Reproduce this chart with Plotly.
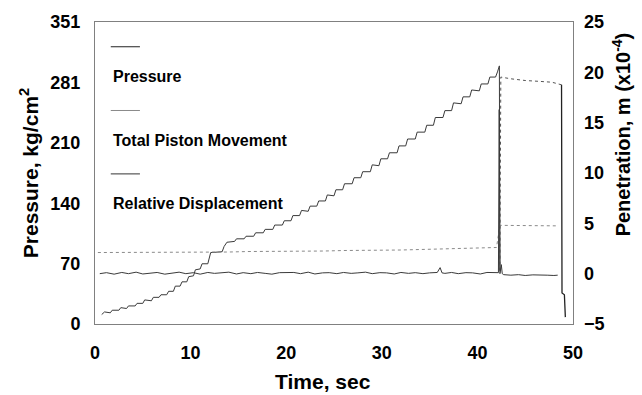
import plotly.graph_objects as go

# ---------------- data ----------------
# Pressure, rising staircase (left axis, kg/cm2)
pressure_rise_t = [0.7, 1.0, 1.6, 1.8, 2.5, 2.7, 3.3, 3.5, 4.2, 4.4, 5.0, 5.2, 5.9, 6.1, 6.7, 6.9,
                   7.5, 7.7, 8.2, 8.4, 8.9, 9.1, 9.6, 9.8, 10.3, 10.5, 11.0, 11.2, 11.8, 12.0, 12.1,
                   13.3, 13.5, 13.8, 14.6, 14.8, 15.6, 15.8, 16.6, 16.8, 17.6, 17.8, 18.6, 18.8,
                   19.6, 19.8, 20.5, 20.7, 21.4, 21.6, 22.3, 22.5, 23.2, 23.4, 24.1, 24.3, 25.0,
                   25.2, 25.9, 26.1, 26.9, 27.1, 27.8, 28.0, 28.8, 29.0, 29.7, 29.9, 30.6, 30.8,
                   31.6, 31.8, 32.5, 32.7, 33.5, 33.7, 34.5, 34.7, 35.4, 35.6, 36.4, 36.6, 37.3,
                   37.5, 38.3, 38.5, 39.2, 39.4, 40.2, 40.4, 41.1, 41.3, 41.9, 42.1, 42.3, 42.35]
pressure_rise_v = [11, 14, 13, 16, 16, 19, 18, 21, 21, 24, 24, 28, 27, 31, 31, 34,
                   34, 38, 38, 44, 44, 49, 49, 55, 56, 63, 64, 70, 70, 80, 83,
                   84, 90, 95, 96, 99, 99, 102, 102, 106, 106, 110, 110, 115,
                   115, 120, 120, 126, 126, 132, 131, 137, 137, 143, 143, 150, 149,
                   156, 156, 163, 163, 170, 170, 177, 177, 185, 184, 192, 192, 199,
                   199, 207, 207, 215, 215, 223, 223, 231, 231, 240, 240, 248, 248,
                   257, 256, 264, 264, 272, 271, 279, 279, 287, 287, 293, 300, 62]

# Pressure hold after the peak (dotted)
pressure_hold_t = [42.35, 42.45, 43.5, 45.0, 46.5, 47.8, 48.8]
pressure_hold_v = [62, 287, 285, 283, 282, 281, 278]

# Pressure unloading
pressure_drop_t = [48.8, 48.85, 49.1, 49.2]
pressure_drop_v = [278, 36, 34, 8]

# Total piston movement (right axis, x1e-4 m)
piston_t = [0.3, 2, 4, 6, 8, 10, 12, 14, 16, 18, 20, 22, 24, 26, 28, 30, 32, 34, 36, 38, 40, 41,
            42.0, 42.35, 42.45, 44, 46, 48.3]
piston_v = [2.1, 2.1, 2.1, 2.1, 2.1, 2.12, 2.15, 2.15, 2.2, 2.2, 2.2, 2.25, 2.25, 2.3, 2.3, 2.35,
            2.35, 2.4, 2.45, 2.5, 2.5, 2.55, 2.6, 4.8, 4.8, 4.75, 4.75, 4.75]

# Relative displacement (right axis, x1e-4 m)
reldisp_t = [0.5, 1.2, 2.0, 2.8, 3.5, 4.3, 5.0, 5.8, 6.5, 7.3, 8.0, 8.8, 9.5, 10.3, 11.0, 11.8,
             12.5, 13.3, 14.0, 14.8, 15.5, 16.3, 17.0, 17.8, 18.5, 19.3, 20.0, 20.8, 21.5, 22.3,
             23.0, 23.8, 24.5, 25.3, 26.0, 26.8, 27.5, 28.3, 29.0, 29.8, 30.5, 31.3, 32.0, 32.8,
             33.5, 34.3, 35.0, 35.8, 36.1, 36.3, 36.6, 37.3, 38.0, 38.8, 39.5, 40.3, 41.0, 41.8,
             42.2, 42.28, 42.36, 42.5, 42.6, 42.75, 43.5, 44.3, 45.0, 45.8, 46.5, 47.3, 48.0, 48.4]
reldisp_v = [0.0, 0.1, -0.05, 0.12, 0.0, 0.15, -0.03, 0.08, 0.12, -0.05, 0.03, 0.15, 0.0, 0.1, -0.05,
             0.12, 0.03, 0.08, 0.15, -0.03, 0.1, 0.0, 0.12, 0.03, -0.05, 0.1, 0.08, 0.12, 0.0, 0.15,
             -0.03, 0.08, 0.1, 0.0, 0.12, 0.03, 0.08, 0.15, 0.0, 0.1, 0.08, -0.03, 0.12, 0.03, 0.1,
             0.0, 0.08, 0.12, 0.6, 0.08, 0.03, 0.12, 0.0, 0.1, 0.08, -0.03, 0.12, 0.08,
             0.1, 16.3, 0.0, 0.9, 0.0, -0.1, -0.15, -0.1, -0.18, -0.12, -0.1, -0.15, -0.18, -0.15]

# Axis ticks
x_ticks = [0, 10, 20, 30, 40, 50]
p_tickvals = [0, 70.2, 140.4, 210.6, 280.8, 351]
p_ticktext = ["0", "70", "140", "210", "281", "351"]
pen_tickvals = [-5, 0, 5, 10, 15, 20, 25]

legend_names = ["Pressure", "Total Piston Movement", "Relative Displacement"]

# ---------------- figure ----------------
FONT = "Arial, Liberation Sans, Helvetica, sans-serif"

fig = go.Figure()
fig.add_trace(go.Scatter(x=piston_t, y=piston_v, yaxis="y2", mode="lines",
                         line=dict(color="#8a8a8a", width=1, dash="dot"),
                         name=legend_names[1], showlegend=False))
fig.add_trace(go.Scatter(x=reldisp_t, y=reldisp_v, yaxis="y2", mode="lines",
                         line=dict(color="#3a3a3a", width=1),
                         name=legend_names[2], showlegend=False))
fig.add_trace(go.Scatter(x=pressure_rise_t, y=pressure_rise_v, mode="lines",
                         line=dict(color="#3a3a3a", width=1),
                         name=legend_names[0], showlegend=False))
fig.add_trace(go.Scatter(x=pressure_hold_t, y=pressure_hold_v, mode="lines",
                         line=dict(color="#555555", width=1, dash="dot"),
                         name=legend_names[0], showlegend=False))
fig.add_trace(go.Scatter(x=pressure_drop_t, y=pressure_drop_v, mode="lines",
                         line=dict(color="#222222", width=1.3),
                         name=legend_names[0], showlegend=False))

# Legend drawn as line samples above each label
leg_line_y = [0.918, 0.707, 0.497]
leg_text_y = [0.819, 0.609, 0.398]
leg_colors = ["#222222", "#8a8a8a", "#333333"]
for name, ly, ty, c in zip(legend_names, leg_line_y, leg_text_y, leg_colors):
    fig.add_shape(type="line", xref="paper", yref="paper", x0=0.033, x1=0.094, y0=ly, y1=ly,
                  line=dict(color=c, width=1))
    fig.add_annotation(xref="paper", yref="paper", x=0.033, y=ty, text=name, showarrow=False,
                       xanchor="left", yanchor="middle",
                       font=dict(family=FONT, size=16, color="black", weight="bold"))

# Axis titles placed as in the reference (x title and right title are off-centre there)
fig.add_annotation(xref="paper", yref="paper", x=0.477, y=-0.19, text="Time, sec",
                   showarrow=False, xanchor="center", yanchor="middle",
                   font=dict(family=FONT, size=21, color="black", weight="bold"))
fig.add_annotation(xref="paper", yref="paper", x=1.0, xshift=48, y=0.628,
                   text="Penetration, m (x10<sup>-4</sup>)", textangle=-90,
                   showarrow=False, xanchor="center", yanchor="middle",
                   font=dict(family=FONT, size=20, color="black", weight="bold"))

axis_common = dict(showgrid=False, zeroline=False, ticks="")
fig.update_layout(
    width=642, height=395, autosize=False,
    margin=dict(l=95, r=69, t=20, b=71),
    paper_bgcolor="white", plot_bgcolor="white",
    font=dict(family=FONT, color="black"),
    xaxis=dict(range=[0, 50], tickvals=x_ticks, showline=True, mirror=True,
               linecolor="#808080", linewidth=1,
               tickfont=dict(family=FONT, size=18, weight="bold"), ticklabelstandoff=12,
               **axis_common),
    yaxis=dict(range=[0, 351], tickvals=p_tickvals, ticktext=p_ticktext,
               showline=True, mirror=True, linecolor="#808080", linewidth=1,
               tickfont=dict(family=FONT, size=18, weight="bold"), ticklabelstandoff=10,
               title=dict(text="Pressure, kg/cm<sup>2</sup>", standoff=6,
                          font=dict(family=FONT, size=21, weight="bold")),
               **axis_common),
    yaxis2=dict(range=[-5, 25], tickvals=pen_tickvals, overlaying="y", side="right",
                showline=False,
                tickfont=dict(family=FONT, size=18, weight="bold"), ticklabelstandoff=10,
                **axis_common),
)

fig.write_html("out.html")
